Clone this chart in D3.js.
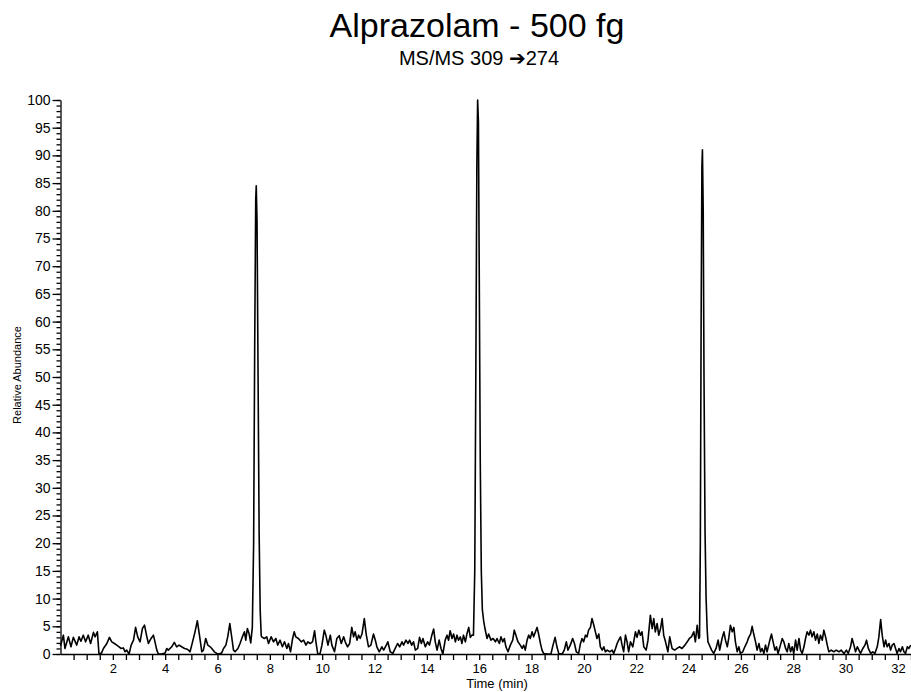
<!DOCTYPE html>
<html lang="en">
<head>
  <meta charset="utf-8">
  <title>Alprazolam - 500 fg</title>
  <script src="https://d3js.org/d3.v7.min.js"></script>
  <style>
    body { margin: 0; background: #fff; }
    svg { display: block; font-family: "Liberation Sans", Arial, sans-serif; }
    .axis path, .axis line { stroke: #000; stroke-width: 1.3px; }
    .axis text { font-size: 13px; fill: #000; }
    .yaxis text { font-size: 14px; }
  </style>
</head>
<body>
  <svg></svg>
  <script>
    // trace: [time (min), relative abundance]
    const noise1 = [
      [0.00,1.5],[0.11,3.4],[0.17,1.0],[0.30,3.1],[0.40,1.3],[0.49,3.0],[0.62,1.6],[0.71,3.1],
      [0.78,2.3],[0.87,3.4],[0.96,2.2],[1.06,3.4],[1.15,1.9],[1.26,3.9],[1.32,3.1],[1.41,4.0],
      [1.47,0.0],[1.57,0.2],[1.64,1.0],[1.77,1.9],[1.87,3.0],[1.96,2.2],[2.06,1.9],[2.15,1.6],
      [2.24,1.3],[2.31,1.0],[2.40,1.1],[2.47,0.4],[2.53,0.7],[2.62,0.0],[2.70,1.6],[2.79,2.5],
      [2.87,4.8],[2.95,3.1],[3.04,2.2],[3.13,4.6],[3.21,5.2],[3.30,3.1],[3.36,1.9],[3.46,2.8],
      [3.55,3.4],[3.61,2.2],[3.68,0.7],[3.74,0.0],[3.87,0.0],[4.00,0.2],[4.06,1.0],[4.12,0.7],
      [4.25,1.3],[4.35,2.1],[4.44,1.3],[4.53,1.6],[4.63,1.3],[4.74,1.0],[4.82,0.9],[4.89,0.7],
      [4.95,0.4],[5.02,1.7],[5.14,4.0],[5.23,6.0],[5.31,3.4],[5.40,0.4],[5.46,0.7],[5.55,2.8],
      [5.63,1.6],[5.72,1.3],[5.78,1.0],[5.88,0.4],[5.97,0.1],[6.04,0.0],[6.16,0.2],[6.23,1.0],
      [6.32,1.6],[6.39,3.1],[6.47,5.5],[6.55,2.8],[6.61,0.7],[6.67,0.4],[6.78,1.0],[6.86,1.9],
      [6.95,3.1],[7.03,4.0],[7.08,2.5],[7.14,4.6],[7.21,3.6],[7.27,2.0]
    ];
    const peak1 = [
      [7.33,4.8],[7.38,20],[7.42,55],[7.46,82],[7.48,84.5],[7.51,78],[7.55,50],[7.59,22],
      [7.63,8],[7.67,3.3]
    ];
    const noise2 = [
      [7.69,3.1],[7.79,2.8],[7.88,3.1],[7.95,1.9],[8.05,3.1],[8.14,2.2],[8.23,2.8],[8.30,1.6],
      [8.39,2.5],[8.48,1.3],[8.56,2.2],[8.65,1.0],[8.71,1.9],[8.79,0.4],[8.87,2.8],[8.93,4.0],
      [8.99,3.1],[9.09,2.8],[9.20,2.2],[9.29,2.5],[9.38,1.6],[9.45,2.2],[9.54,1.9],[9.63,2.2],
      [9.71,4.2],[9.76,2.2],[9.83,0.0],[9.92,0.1],[9.99,1.6],[10.08,4.3],[10.14,3.4],[10.22,1.6],
      [10.31,3.4],[10.37,1.6],[10.47,0.4],[10.56,2.8],[10.65,3.3],[10.73,1.9],[10.82,3.1],[10.88,2.2],
      [10.97,1.3],[11.05,1.9],[11.13,4.8],[11.20,3.1],[11.26,4.0],[11.33,2.5],[11.39,3.4],[11.45,2.8],
      [11.52,3.6],[11.61,6.4],[11.68,3.6],[11.77,1.3],[11.86,1.6],[11.96,3.6],[12.03,2.5],[12.09,1.3],
      [12.18,0.4],[12.28,1.3],[12.35,0.7],[12.45,1.6],[12.51,2.2],[12.60,0.4],[12.70,0.1],[12.79,1.0],
      [12.88,1.9],[12.96,1.3],[13.05,2.2],[13.11,1.6],[13.20,2.5],[13.28,1.9],[13.34,2.5],[13.42,1.6],
      [13.49,2.2],[13.56,0.7],[13.65,1.0],[13.72,3.0],[13.79,1.9],[13.85,2.8],[13.94,1.3],[14.03,2.2],
      [14.10,1.6],[14.19,3.4],[14.26,4.5],[14.32,2.2],[14.39,0.7],[14.47,2.5],[14.54,1.0],[14.61,0.0],
      [14.70,2.5],[14.77,3.4],[14.83,2.5],[14.89,4.2],[14.96,2.8],[15.02,3.6],[15.09,2.2],[15.15,3.4],
      [15.21,2.5],[15.28,3.1],[15.34,1.9],[15.40,3.4],[15.47,2.2],[15.53,3.6],[15.60,4.8],[15.66,3.0],
      [15.72,3.4]
    ];
    const peak2 = [
      [15.78,3.4],[15.83,15],[15.87,50],[15.91,88],[15.94,100],[15.97,96],[16.00,70],[16.04,35],
      [16.08,15],[16.12,8],[16.17,6],[16.22,4.6]
    ];
    const noise3 = [
      [16.30,2.8],[16.36,3.6],[16.45,2.5],[16.53,2.8],[16.62,2.2],[16.68,2.8],[16.77,1.9],[16.83,3.1],
      [16.90,2.2],[16.96,2.8],[17.02,1.3],[17.10,0.4],[17.19,1.6],[17.28,2.5],[17.34,4.3],[17.42,3.1],
      [17.48,2.2],[17.57,1.6],[17.64,1.0],[17.70,1.6],[17.76,0.7],[17.83,2.5],[17.89,3.4],[17.95,2.8],
      [18.02,4.0],[18.08,3.1],[18.15,4.0],[18.21,4.8],[18.27,3.6],[18.34,1.9],[18.40,0.7],[18.46,0.1],
      [18.59,0.0],[18.74,0.0],[18.82,1.6],[18.90,3.0],[18.97,1.3],[19.04,0.1],[19.17,0.0],[19.25,0.7],
      [19.33,2.2],[19.39,0.7],[19.48,1.6],[19.57,2.8],[19.64,1.9],[19.71,0.4],[19.80,0.1],[19.87,1.9],
      [19.93,2.8],[19.99,2.2],[20.06,3.4],[20.12,3.1],[20.18,4.3],[20.25,4.8],[20.31,6.4],[20.38,5.2],
      [20.44,4.0],[20.50,2.8],[20.57,3.6],[20.63,1.3],[20.70,0.7],[20.76,1.3],[20.82,0.4],[20.89,0.7],
      [20.99,0.4],[21.08,0.7],[21.14,0.1],[21.21,1.0],[21.27,1.9],[21.33,2.5],[21.40,3.1],[21.46,1.6],
      [21.52,0.4],[21.59,3.4],[21.65,2.2],[21.71,0.4],[21.78,2.2],[21.87,1.3],[21.97,4.0],[22.03,3.0],
      [22.10,4.3],[22.16,3.4],[22.22,4.0],[22.29,1.3],[22.38,0.7],[22.45,2.5],[22.54,7.0],[22.61,4.6],
      [22.67,6.4],[22.73,4.0],[22.80,5.5],[22.86,3.4],[22.93,4.6],[22.99,6.4],[23.05,3.4],[23.12,2.2],
      [23.21,0.4],[23.28,3.1],[23.37,1.0],[23.47,0.7],[23.56,1.0],[23.65,1.3],[23.75,1.0],[23.86,1.6],
      [23.95,2.2],[24.03,2.8],[24.11,3.1],[24.20,4.0],[24.26,2.2],[24.33,5.2],[24.39,2.8]
    ];
    const peak3 = [
      [24.42,3],[24.45,20],[24.48,60],[24.51,88],[24.53,91],[24.56,80],[24.59,50],[24.63,22],
      [24.67,10],[24.71,4.5],[24.74,2.2]
    ];
    const noise4 = [
      [24.77,1.9],[24.88,0.7],[24.96,0.1],[25.05,1.0],[25.13,2.5],[25.19,0.7],[25.28,2.8],[25.35,4.0],
      [25.41,2.5],[25.48,1.3],[25.54,3.0],[25.60,5.2],[25.67,4.0],[25.73,4.8],[25.79,2.2],[25.86,0.4],
      [25.92,1.3],[25.98,0.1],[26.07,0.4],[26.15,1.3],[26.24,2.2],[26.30,3.0],[26.37,3.6],[26.43,5.0],
      [26.49,3.6],[26.56,2.2],[26.62,0.7],[26.69,1.9],[26.75,0.4],[26.81,1.0],[26.88,0.1],[26.94,1.6],
      [27.00,0.4],[27.09,2.2],[27.17,3.6],[27.23,2.2],[27.30,0.7],[27.36,1.3],[27.42,0.1],[27.51,1.6],
      [27.58,2.8],[27.64,2.2],[27.71,1.0],[27.77,0.4],[27.83,1.9],[27.90,0.4],[27.96,1.3],[28.02,0.1],
      [28.09,2.5],[28.15,0.7],[28.22,2.8],[28.28,0.7],[28.34,0.1],[28.41,1.3],[28.47,2.8],[28.53,4.0],
      [28.60,3.4],[28.66,4.3],[28.72,3.1],[28.79,4.0],[28.85,2.5],[28.92,3.6],[28.98,1.9],[29.04,3.4],
      [29.11,2.5],[29.17,4.3],[29.24,3.0],[29.30,1.6],[29.36,0.4],[29.45,0.7],[29.55,0.4],[29.64,0.7],
      [29.75,0.4],[29.83,0.7],[29.94,0.1],[30.03,0.7],[30.10,0.1],[30.19,1.3],[30.25,2.8],[30.32,1.6],
      [30.38,0.4],[30.45,1.3],[30.51,0.7],[30.57,0.1],[30.66,1.0],[30.74,1.6],[30.80,2.5],[30.87,1.0],
      [30.96,0.1],[31.04,0.4],[31.12,0.1],[31.21,1.3],[31.27,3.0],[31.34,6.2],[31.40,3.4],[31.47,1.3],
      [31.53,2.5],[31.59,1.3],[31.66,1.9],[31.72,0.7],[31.78,1.6],[31.85,1.9],[31.91,1.0],[31.97,0.1],
      [32.04,1.0],[32.10,0.4],[32.17,1.3],[32.23,0.4],[32.29,0.1],[32.36,1.3],[32.42,1.0],[32.49,1.6]
    ];

    const xLabelTicks = [2, 4, 6, 8, 10, 12, 14, 16, 18, 20, 22, 24, 26, 28, 30, 32];
    const yLabelTicks = [0, 5, 10, 15, 20, 25, 30, 35, 40, 45, 50, 55, 60, 65, 70, 75, 80, 85, 90, 95, 100];

    const trace = [].concat(noise1, peak1, noise2, peak2, noise3, peak3, noise4);

    const width = 911, height = 692;
    const svg = d3.select("svg").attr("width", width).attr("height", height);

    const x = d3.scaleLinear().domain([0, 32.5]).range([60.5, 911]);
    const y = d3.scaleLinear().domain([0, 100]).range([654, 100]);

    // titles
    svg.append("text")
      .attr("x", 477).attr("y", 37)
      .attr("text-anchor", "middle")
      .style("font-size", "34px")
      .text("Alprazolam - 500 fg");

    const sub = svg.append("text")
      .attr("x", 479).attr("y", 65)
      .attr("text-anchor", "middle")
      .style("font-size", "20px");
    sub.append("tspan").text("MS/MS 309 ");
    sub.append("tspan").style("font-family", "DejaVu Sans").style("font-size", "20px").text("\u2794");
    sub.append("tspan").text("274");

    // y axis: minor ticks every 1, labelled ones every 5
    svg.append("g")
      .attr("class", "axis")
      .attr("transform", "translate(60.5,0)")
      .call(d3.axisLeft(y).tickValues(d3.range(0, 101, 1)).tickSize(4).tickSizeOuter(0).tickFormat(""));

    svg.append("g")
      .attr("class", "axis yaxis")
      .attr("transform", "translate(60.5,0)")
      .call(d3.axisLeft(y).tickValues(yLabelTicks).tickSize(8).tickSizeOuter(0).tickPadding(2))
      .call(g => g.select(".domain").remove());

    // x axis: ticks every 0.5 min, labels every 2
    svg.append("g")
      .attr("class", "axis")
      .attr("transform", "translate(0,654)")
      .call(d3.axisBottom(x).tickValues(d3.range(0.5, 32.51, 0.5)).tickSize(6).tickSizeOuter(0)
        .tickFormat(d => xLabelTicks.includes(d) ? d : ""))
      .call(g => g.selectAll("text").attr("dy", "0.78em"));

    // axis titles
    svg.append("text")
      .attr("transform", "translate(21,375) rotate(-90)")
      .attr("text-anchor", "middle")
      .style("font-size", "11px")
      .text("Relative Abundance");

    svg.append("text")
      .attr("x", 497).attr("y", 688)
      .attr("text-anchor", "middle")
      .style("font-size", "13px")
      .text("Time (min)");

    // chromatogram trace
    const line = d3.line()
      .x(d => x(d[0]))
      .y(d => y(d[1]));

    svg.append("path")
      .datum(trace)
      .attr("fill", "none")
      .attr("stroke", "#000")
      .attr("stroke-width", 1.6)
      .attr("stroke-linejoin", "round")
      .attr("d", line);
  </script>
</body>
</html>
